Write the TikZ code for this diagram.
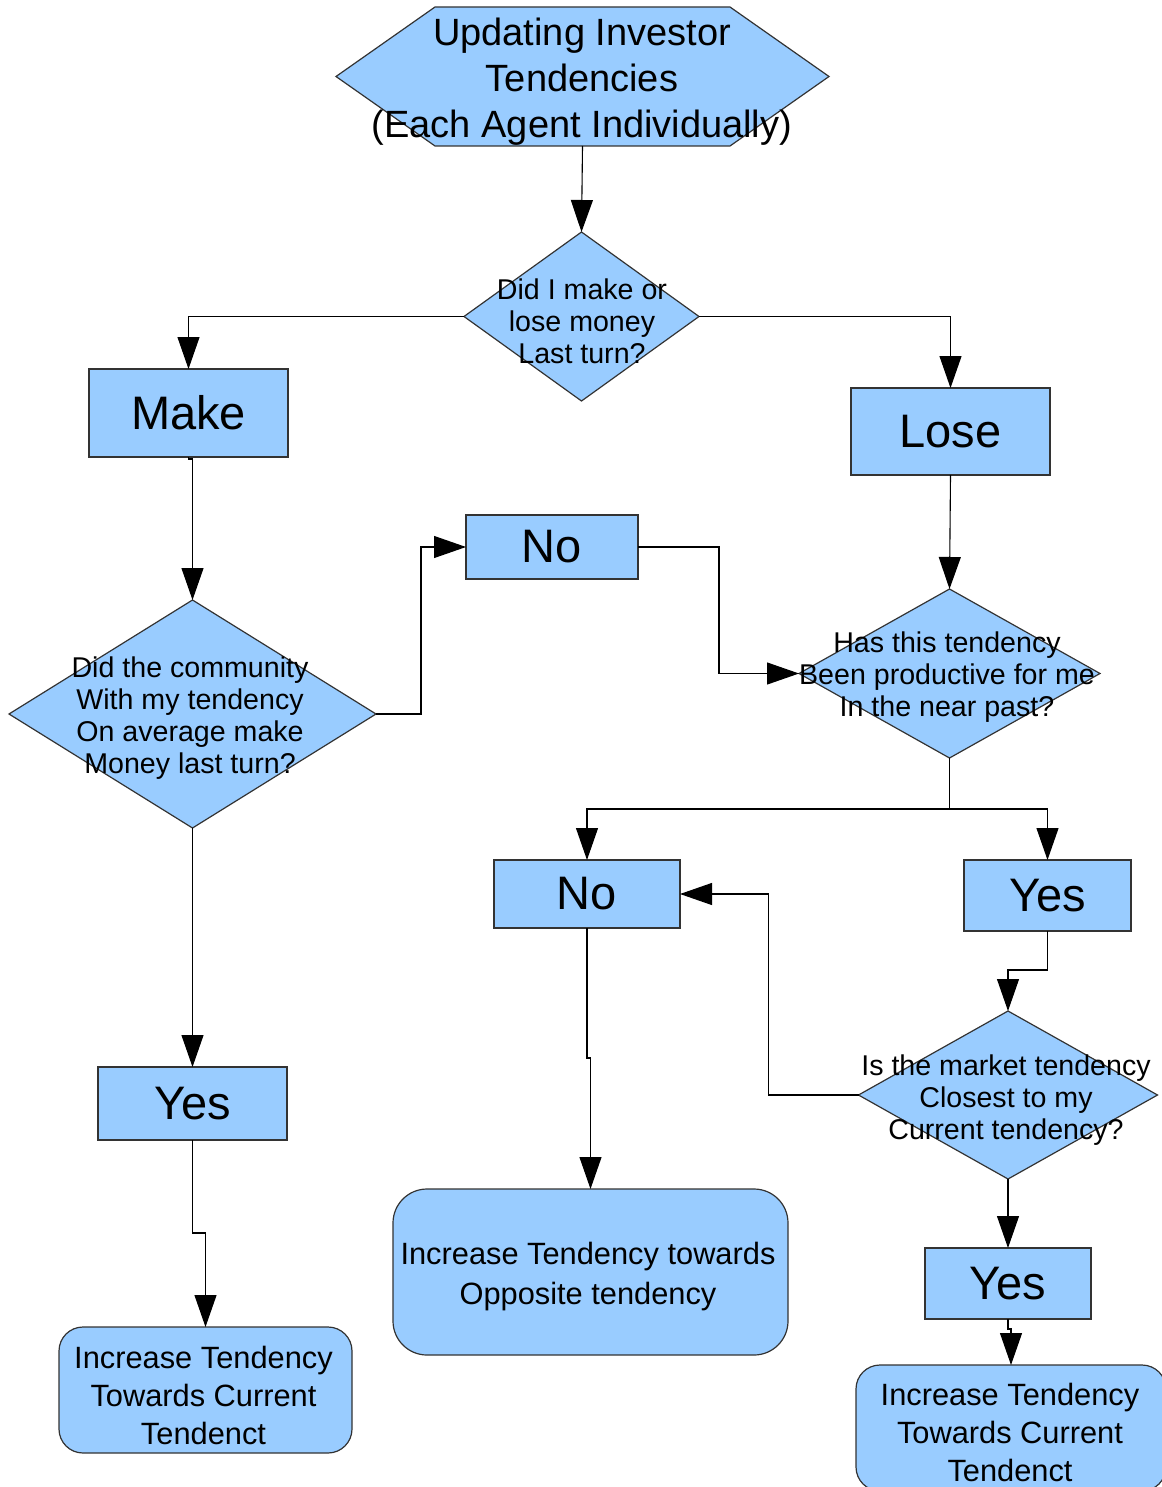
\documentclass[tikz,border=0pt]{standalone}
\usepackage{fontspec}
\setmainfont{Liberation Sans}
\usetikzlibrary{shapes.geometric,arrows.meta}
\definecolor{boxfill}{HTML}{99CCFF}
\definecolor{boxline}{HTML}{333333}

\begin{document}
\begin{tikzpicture}[x=1pt,y=-1pt,
  shapebox/.style={draw=boxline,fill=boxfill,line width=1.2pt,inner sep=0pt,outer sep=0pt},
  answer/.style={shapebox,rectangle,font=\fontsize{47}{52}\selectfont},
  decision/.style={shapebox,diamond},
  question/.style={font=\fontsize{28.6}{32}\selectfont,align=center,inner sep=0pt},
  outcome/.style={shapebox,rectangle,align=center,font=\fontsize{30.8}{38}\selectfont},
  flow/.style={line width=1.1pt,draw=black,-{Triangle[length=32pt,width=22pt]}},
]
\useasboundingbox (0,0) rectangle (1161,1487);

% start: hexagon with the title
\node[minimum width=493pt,minimum height=139pt,inner sep=0pt,outer sep=0pt] (start) at (582.5,76.5) {};
\draw[shapebox] (start.west) -- ([xshift=99pt]start.north west) -- ([xshift=-99pt]start.north east)
  -- (start.east) -- ([xshift=-99pt]start.south east) -- ([xshift=99pt]start.south west) -- cycle;
\node[align=center,inner sep=0pt,font=\fontsize{38}{46}\selectfont] (title) at (582,82)
  {Updating Investor\\Tendencies\\(Each Agent Individually)};

% decisions
\node[decision,minimum width=235pt,minimum height=169pt] (d1) at (581.5,316.5) {};
\node[question] (d1t) at (582,321) {Did I make or\\lose money\\Last turn?};

\node[decision,minimum width=301pt,minimum height=169pt] (d2) at (949.5,673.5) {};
\node[question] (d2t) at (947,677) {Has this tendency\\Been productive for me\\In the near past?};

\node[decision,minimum width=367pt,minimum height=228pt] (d3) at (192.5,714) {};
\node[question] (d3t) at (190,718) {Did the community\\With my tendency\\On average make\\Money last turn?};

\node[decision,minimum width=299pt,minimum height=168pt] (d4) at (1008,1095) {};
\node[question] (d4t) at (1006,1100) {Is the market tendency\\Closest to my\\Current tendency?};

% answers
\node[answer,minimum width=199pt,minimum height=88pt] (make) at (188.5,413) {Make};
\node[answer,minimum width=199pt,minimum height=87pt] (lose) at (950.5,431.5) {Lose};
\node[answer,minimum width=172pt,minimum height=64pt] (no1) at (552,547) {No};
\node[answer,minimum width=186pt,minimum height=68pt] (no2) at (587,894) {No};
\node[answer,minimum width=167pt,minimum height=71pt] (yes1) at (1047.5,895.5) {Yes};
\node[answer,minimum width=189pt,minimum height=73pt] (yes2) at (192.5,1103.5) {Yes};
\node[answer,minimum width=166pt,minimum height=71pt] (yes3) at (1008,1283.5) {Yes};

% outcomes
\node[outcome,rounded corners=24pt,minimum width=293pt,minimum height=126pt] (fin1) at (205.5,1390) {};
\node[align=center,inner sep=0pt,font=\fontsize{30.8}{38}\selectfont] (fin1t) at (203.5,1395)
  {Increase Tendency\\Towards Current\\Tendenct};
\node[outcome,rounded corners=34pt,minimum width=395pt,minimum height=166pt] (mid) at (590.5,1272) {};
\node[align=center,inner sep=0pt,font=\fontsize{30.8}{40}\selectfont] (midt) at (588,1277)
  {Increase Tendency towards\\Opposite tendency};
\node[outcome,rounded corners=24pt,minimum width=310pt,minimum height=126pt] (fin3) at (1011,1428) {};
\node[align=center,inner sep=0pt,font=\fontsize{30.8}{38}\selectfont] (fin3t) at (1010,1432)
  {Increase Tendency\\Towards Current\\Tendenct};

% connectors
\draw[flow] (start.south) -- (d1.north);
\draw[flow] (d1.west) -| (make.north);
\draw[flow] (d1.east) -| (lose.north);
\draw[flow] (make.south) -- ++(0,2) -| (d3.north);
\draw[flow] (d3.east) -- ++(45,0) |- (no1.west);
\draw[flow] (no1.east) -- ++(81,0) |- (d2.west);
\draw[flow] (lose.south) -- (d2.north);
\draw[flow] (d2.south) -- ++(0,51) -| (no2.north);
\draw[flow] (d2.south) -- ++(0,51) -| (yes1.north);
\draw[flow] (yes1.south) -- ++(0,39) -| (d4.north);
\draw[flow] (d4.west) -- ++(-90,0) |- (no2.east);
\draw[flow] (d4.south) -- (yes3.north);
\draw[flow] (yes3.south) -- ++(0,10) -| (fin3.north);
\draw[flow] (no2.south) -- ++(0,130) -| (mid.north);
\draw[flow] (d3.south) -- (yes2.north);
\draw[flow] (yes2.south) -- ++(0,93) -| (fin1.north);
\end{tikzpicture}
\end{document}
